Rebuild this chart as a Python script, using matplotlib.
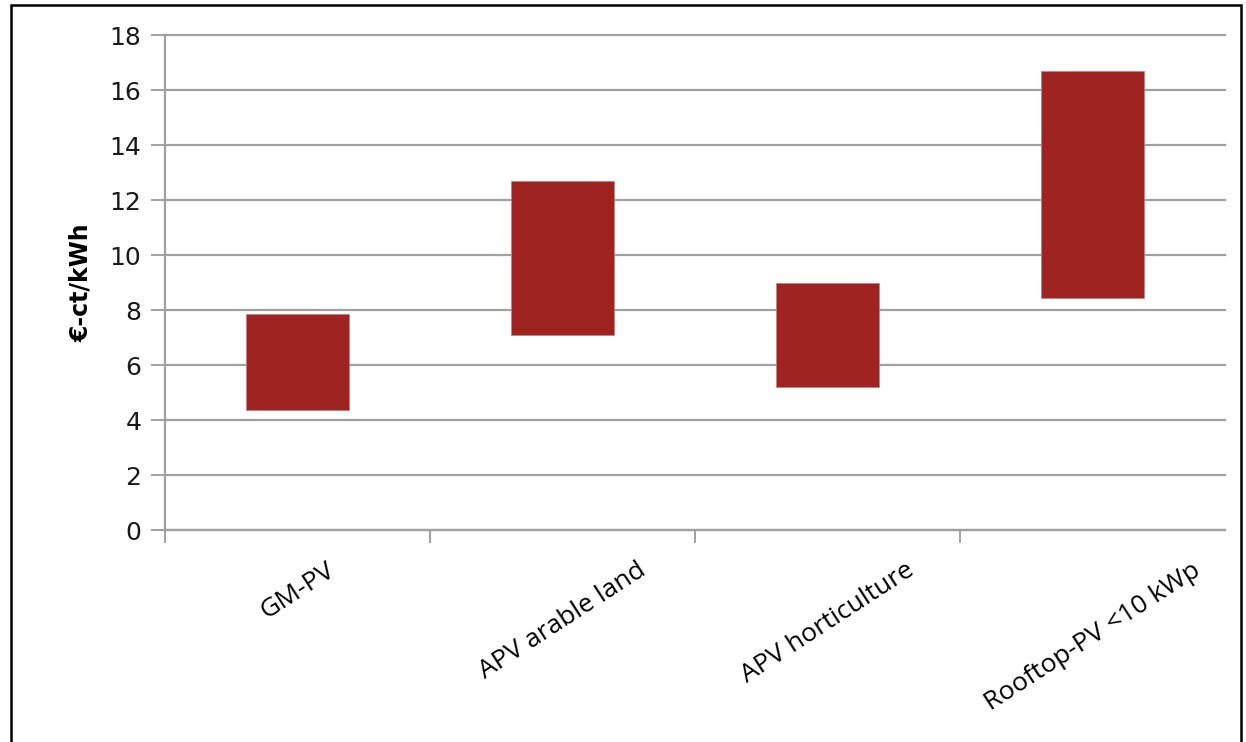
import matplotlib

matplotlib.use("Agg")
import matplotlib.pyplot as plt
from matplotlib.patches import Rectangle

# values (€-ct/kWh, low/high of each range)
categories = ["GM-PV", "APV arable land", "APV horticulture", "Rooftop-PV <10 kWp"]
low = [4.35, 7.1, 5.2, 8.45]
high = [7.85, 12.7, 9.0, 16.7]
y_ticks = [0, 2, 4, 6, 8, 10, 12, 14, 16, 18]

BAR = "#9E2321"
GRID = "#A0A0A0"
TXT = "#1a1a1a"

fig = plt.figure(figsize=(12.46, 7.42), dpi=100)
ax = fig.add_axes([0.1324, 0.2857, 0.8508, 0.6671])

x = list(range(len(categories)))
heights = [h - l for l, h in zip(low, high)]
ax.bar(x, heights, bottom=low, width=0.39, color=BAR, edgecolor="#C98080",
       linewidth=0.6, zorder=3)

ax.set_xlim(-0.5, len(categories) - 0.5)
ax.set_ylim(0, 18)
ax.set_yticks(y_ticks)
ax.set_yticklabels([str(v) for v in y_ticks], fontsize=18, color=TXT,
                   family="DejaVu Sans")
ax.yaxis.grid(True, color=GRID, linewidth=1.6, zorder=0)
for gl in ax.yaxis.get_gridlines():
    gl.set_clip_on(False)
ax.tick_params(axis="y", length=10, width=1.4, color=GRID, pad=7)

# category boundaries as major ticks, names on minor ticks
ax.set_xticks([i - 0.5 for i in range(len(categories))])
ax.set_xticklabels([])
ax.tick_params(axis="x", which="major", length=9, width=1.4, color=GRID, direction="out")
ax.set_xticks(x, minor=True)
ax.set_xticklabels(categories, minor=True, rotation=33, ha="center", va="top",
                   fontsize=19, family="Open Sans", color="black")
ax.tick_params(axis="x", which="minor", length=0, pad=20)

for side in ["top", "right"]:
    ax.spines[side].set_visible(False)
ax.spines["left"].set_color(GRID)
ax.spines["left"].set_linewidth(1.6)
ax.spines["bottom"].set_color(GRID)
ax.spines["bottom"].set_linewidth(1.6)

ax.set_ylabel("€-ct/kWh", fontsize=17, fontweight="bold", family="DejaVu Sans",
              color="black", labelpad=12)

# outer frame of the figure (bottom edge cut off in the reference)
fig.patches.append(Rectangle((0.009, -0.05), 0.987, 1.043, transform=fig.transFigure,
                             fill=False, edgecolor="black", linewidth=1.8))

fig.savefig("out.png", dpi=100, facecolor="white")
